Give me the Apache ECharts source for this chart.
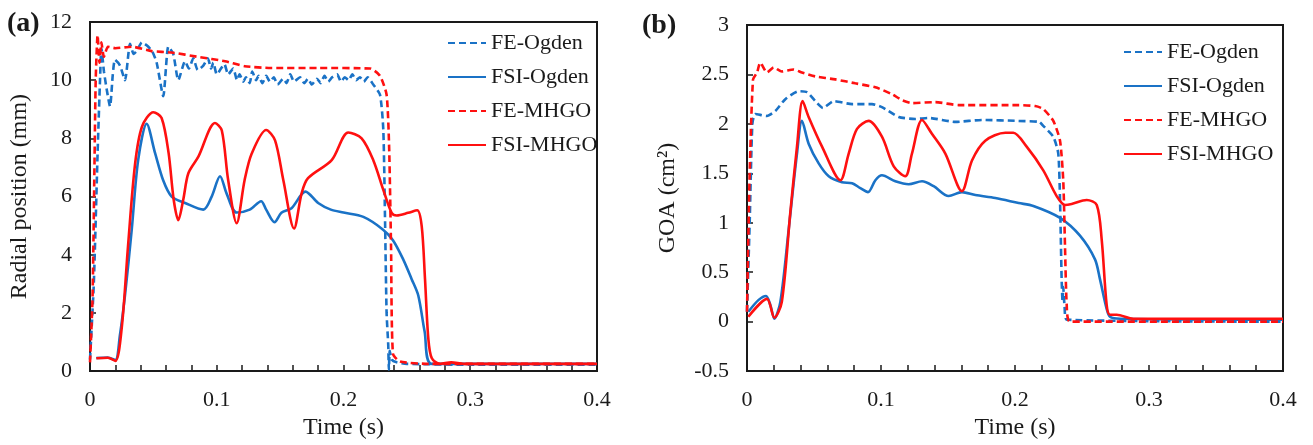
<!DOCTYPE html>
<html>
<head>
<meta charset="utf-8">
<script src="https://cdn.jsdelivr.net/npm/echarts@6/dist/echarts.min.js"></script>
<style>
  html, body { margin: 0; padding: 0; background: #fff; }
  #chart { width: 1313px; height: 445px; }
</style>
</head>
<body>
<div id="chart"></div>
<script>
// legend / series names
const names = ['FE-Ogden', 'FSI-Ogden', 'FE-MHGO', 'FSI-MHGO'];

// (a) radial position (mm) vs time (s)
const feOgdenA = [[0,0.4],[0.003,3.0],[0.006,7.5],[0.0079,10.0],[0.009,11.1],[0.011,10.3],[0.0135,9.6],[0.0158,9.1],[0.018,10.2],[0.0197,10.7],[0.0237,10.5],[0.0276,10.0],[0.0316,11.25],[0.0345,10.9],[0.0368,11.0],[0.041,11.3],[0.0447,11.2],[0.049,11.0],[0.0526,10.6],[0.0578,9.45],[0.0618,11.15],[0.0657,10.9],[0.0697,10.0],[0.075,10.65],[0.078,10.4],[0.0815,10.75],[0.085,10.35],[0.0894,10.5],[0.093,10.75],[0.0955,10.4],[0.0973,10.6],[0.1,10.2],[0.1026,10.35],[0.106,10.55],[0.109,10.2],[0.113,10.4],[0.116,10.0],[0.118,10.2],[0.121,9.95],[0.123,10.1],[0.126,9.9],[0.128,10.3],[0.131,10.0],[0.133,10.15],[0.136,9.9],[0.139,10.15],[0.142,9.95],[0.145,10.1],[0.148,9.85],[0.1525,10.05],[0.155,9.9],[0.158,10.2],[0.161,9.95],[0.1657,10.1],[0.169,9.9],[0.172,10.05],[0.175,9.85],[0.179,10.05],[0.182,9.9],[0.185,10.15],[0.188,9.95],[0.191,10.1],[0.195,10.2],[0.198,9.95],[0.201,10.1],[0.204,10.0],[0.207,10.2],[0.21,10.0],[0.213,10.1],[0.216,9.95],[0.219,10.1],[0.2235,9.85],[0.2288,9.5],[0.2314,8.3],[0.2327,5.4],[0.234,2.0],[0.2353,0.9],[0.2358,0.05],[0.2365,0.7],[0.238,0.4],[0.242,0.3],[0.25,0.25],[0.3,0.22],[0.4,0.22]];
const fsiOgdenA = [[0.005,0.45],[0.014,0.47],[0.02,0.38],[0.0235,1.2],[0.0276,2.6],[0.033,4.9],[0.038,7.25],[0.0447,8.5],[0.0513,7.5],[0.0578,6.55],[0.0644,6.0],[0.075,5.78],[0.0894,5.55],[0.096,6.0],[0.1026,6.7],[0.1078,6.1],[0.1157,5.45],[0.126,5.55],[0.135,5.84],[0.139,5.55],[0.1456,5.12],[0.151,5.44],[0.159,5.6],[0.17,6.17],[0.18,5.78],[0.19,5.55],[0.2,5.45],[0.2157,5.3],[0.231,4.87],[0.239,4.5],[0.247,3.85],[0.2537,3.17],[0.259,2.6],[0.264,1.36],[0.2696,0.25],[0.4,0.25]];
const feMhgoA = [[0,0.3],[0.002,2.5],[0.0035,7.0],[0.0045,10.0],[0.006,11.55],[0.0075,10.6],[0.009,11.3],[0.011,10.8],[0.0142,11.15],[0.02,11.1],[0.033,11.15],[0.0487,11.0],[0.0644,10.95],[0.0855,10.8],[0.1065,10.65],[0.122,10.48],[0.143,10.42],[0.18,10.42],[0.221,10.4],[0.2288,10.15],[0.234,9.5],[0.236,7.7],[0.2375,4.3],[0.239,0.6],[0.2446,0.33],[0.267,0.25],[0.4,0.25]];
const fsiMhgoA = [[0.005,0.44],[0.014,0.46],[0.02,0.35],[0.025,1.47],[0.03,4.3],[0.0355,7.1],[0.041,8.4],[0.05,8.9],[0.0565,8.7],[0.062,7.5],[0.066,5.9],[0.0697,5.19],[0.0736,5.9],[0.0776,6.8],[0.0855,7.37],[0.0986,8.53],[0.104,8.27],[0.109,6.57],[0.1157,5.08],[0.122,6.57],[0.1276,7.48],[0.139,8.29],[0.146,7.93],[0.1525,6.57],[0.161,4.9],[0.167,6.12],[0.172,6.63],[0.1907,7.25],[0.2038,8.2],[0.2143,8.0],[0.2235,7.25],[0.2314,6.23],[0.238,5.44],[0.242,5.35],[0.251,5.44],[0.2582,5.53],[0.2617,4.98],[0.2643,3.17],[0.2669,1.13],[0.2696,0.45],[0.276,0.25],[0.285,0.3],[0.295,0.25],[0.4,0.25]];

// (b) GOA (cm2) vs time (s)
const feOgdenB = [[0,0.1],[0.002,1.0],[0.004,2.0],[0.0062,2.1],[0.0149,2.08],[0.0211,2.13],[0.0286,2.25],[0.0386,2.33],[0.0448,2.32],[0.051,2.23],[0.0567,2.16],[0.0647,2.23],[0.0784,2.2],[0.0933,2.2],[0.1007,2.17],[0.1132,2.07],[0.1256,2.05],[0.1356,2.06],[0.1555,2.02],[0.1754,2.04],[0.2027,2.03],[0.218,2.02],[0.2211,1.98],[0.2286,1.87],[0.2323,1.7],[0.2336,1.23],[0.2348,0.43],[0.2355,0.2],[0.236,0.35],[0.237,0.15],[0.2386,0.02],[0.4,0.0]];
const fsiOgdenB = [[0.001,0.1],[0.0087,0.22],[0.0142,0.26],[0.0174,0.17],[0.0204,0.03],[0.0249,0.2],[0.0311,0.93],[0.0373,1.7],[0.041,2.03],[0.046,1.8],[0.0535,1.6],[0.061,1.47],[0.0709,1.41],[0.0784,1.4],[0.0846,1.35],[0.0903,1.31],[0.0958,1.43],[0.1007,1.48],[0.1107,1.42],[0.1207,1.39],[0.1306,1.42],[0.1393,1.37],[0.1505,1.27],[0.1604,1.31],[0.1704,1.28],[0.1853,1.25],[0.2027,1.2],[0.2137,1.17],[0.2336,1.05],[0.2485,0.87],[0.2597,0.63],[0.2634,0.43],[0.2684,0.13],[0.2709,0.05],[0.2784,0.03],[0.4,0.02]];
const feMhgoB = [[0,0.1],[0.002,1.5],[0.0045,2.45],[0.0075,2.52],[0.0099,2.62],[0.0149,2.52],[0.0199,2.57],[0.026,2.53],[0.0348,2.55],[0.041,2.52],[0.051,2.48],[0.0659,2.45],[0.0808,2.41],[0.0958,2.37],[0.1082,2.3],[0.1157,2.24],[0.1231,2.21],[0.1405,2.22],[0.158,2.19],[0.2027,2.19],[0.215,2.18],[0.2211,2.15],[0.2286,2.03],[0.2336,1.83],[0.236,1.43],[0.2373,0.77],[0.2386,0.17],[0.241,0.0],[0.4,0.0]];
const fsiMhgoB = [[0.001,0.05],[0.0149,0.23],[0.0204,0.04],[0.026,0.2],[0.0323,1.1],[0.0373,1.77],[0.0415,2.23],[0.046,2.07],[0.056,1.77],[0.0697,1.43],[0.0759,1.7],[0.0821,1.95],[0.0908,2.03],[0.1007,1.87],[0.1095,1.57],[0.1181,1.47],[0.1231,1.7],[0.1306,2.04],[0.138,1.9],[0.148,1.7],[0.1604,1.32],[0.1679,1.63],[0.1778,1.83],[0.1928,1.91],[0.1987,1.91],[0.2087,1.77],[0.2211,1.53],[0.2311,1.27],[0.2373,1.18],[0.2423,1.19],[0.2535,1.23],[0.261,1.18],[0.2647,0.83],[0.2684,0.17],[0.2709,0.07],[0.2759,0.07],[0.2883,0.03],[0.4,0.03]];

const BLUE = '#1a72c6';
const RED = '#ff1010';
const FONT = 'Liberation Serif';
const INK = '#1a1a1a';

const chart = echarts.init(document.getElementById('chart'), null, { renderer: 'canvas' });

function xAxisFor(gridIndex) {
    return {
        type: 'value', gridIndex: gridIndex, min: 0, max: 0.4, interval: 0.1,
        name: 'Time (s)', nameLocation: 'middle', nameGap: 42,
        nameTextStyle: { fontFamily: FONT, fontSize: 24, color: INK },
        axisLine: { onZero: false, lineStyle: { color: INK, width: 2 } },
        axisTick: { inside: true, length: 6, lineStyle: { color: INK, width: 1.5 } },
        minorTick: { show: true, splitNumber: 5, length: 6, lineStyle: { color: INK, width: 1.5 } },
        axisLabel: { fontFamily: FONT, fontSize: 22, color: INK, margin: 18 },
        splitLine: { show: false }
    };
}

function yAxisFor(gridIndex, min, max, interval, name, nameGap) {
    return {
        type: 'value', gridIndex: gridIndex, min: min, max: max, interval: interval,
        name: name, nameLocation: 'middle', nameGap: nameGap,
        nameTextStyle: { fontFamily: FONT, fontSize: 24, color: INK },
        axisLine: { onZero: false, lineStyle: { color: INK, width: 2 } },
        axisTick: { inside: true, length: 6, lineStyle: { color: INK, width: 1.5 } },
        axisLabel: { fontFamily: FONT, fontSize: 22, color: INK, margin: 18 },
        splitLine: { show: false }
    };
}

function line(name, data, idx, color, dashed) {
    return {
        name: name, type: 'line', xAxisIndex: idx, yAxisIndex: idx,
        data: data, symbol: 'none', smooth: dashed ? 0.2 : 0.3,
        lineStyle: { color: color, width: 2.6, type: dashed ? [7, 4] : 'solid' },
        itemStyle: { color: color }
    };
}

function legendAt(left, top) {
    return {
        data: names, orient: 'vertical', left: left, top: top, padding: 0,
        itemWidth: 38, itemHeight: 12, itemGap: 12, selectedMode: false,
        itemStyle: { opacity: 0 },
        textStyle: { fontFamily: FONT, fontSize: 22, color: INK }
    };
}

const option = {
    animation: false,
    backgroundColor: '#fff',
    title: [
        { text: '(a)', left: 7, top: 10, padding: 0, textStyle: { fontFamily: FONT, fontSize: 28, fontWeight: 'bold', color: INK } },
        { text: '(b)', left: 642, top: 12, padding: 0, textStyle: { fontFamily: FONT, fontSize: 28, fontWeight: 'bold', color: INK } }
    ],
    legend: [legendAt(447, 32), legendAt(1123, 41)],
    grid: [
        { left: 90, top: 22, width: 507, height: 353, show: true, borderColor: INK, borderWidth: 2 },
        { left: 747, top: 25, width: 536, height: 350, show: true, borderColor: INK, borderWidth: 2 }
    ],
    xAxis: [xAxisFor(0), xAxisFor(1)],
    yAxis: [
        yAxisFor(0, 0, 12, 2, 'Radial position (mm)', 58),
        yAxisFor(1, -0.5, 3, 0.5, 'GOA (cm²)', 67)
    ],
    series: [
        line(names[0], feOgdenA, 0, BLUE, true),
        line(names[1], fsiOgdenA, 0, BLUE, false),
        line(names[2], feMhgoA, 0, RED, true),
        line(names[3], fsiMhgoA, 0, RED, false),
        line(names[0], feOgdenB, 1, BLUE, true),
        line(names[1], fsiOgdenB, 1, BLUE, false),
        line(names[2], feMhgoB, 1, RED, true),
        line(names[3], fsiMhgoB, 1, RED, false)
    ]
};

chart.setOption(option);
</script>
</body>
</html>
